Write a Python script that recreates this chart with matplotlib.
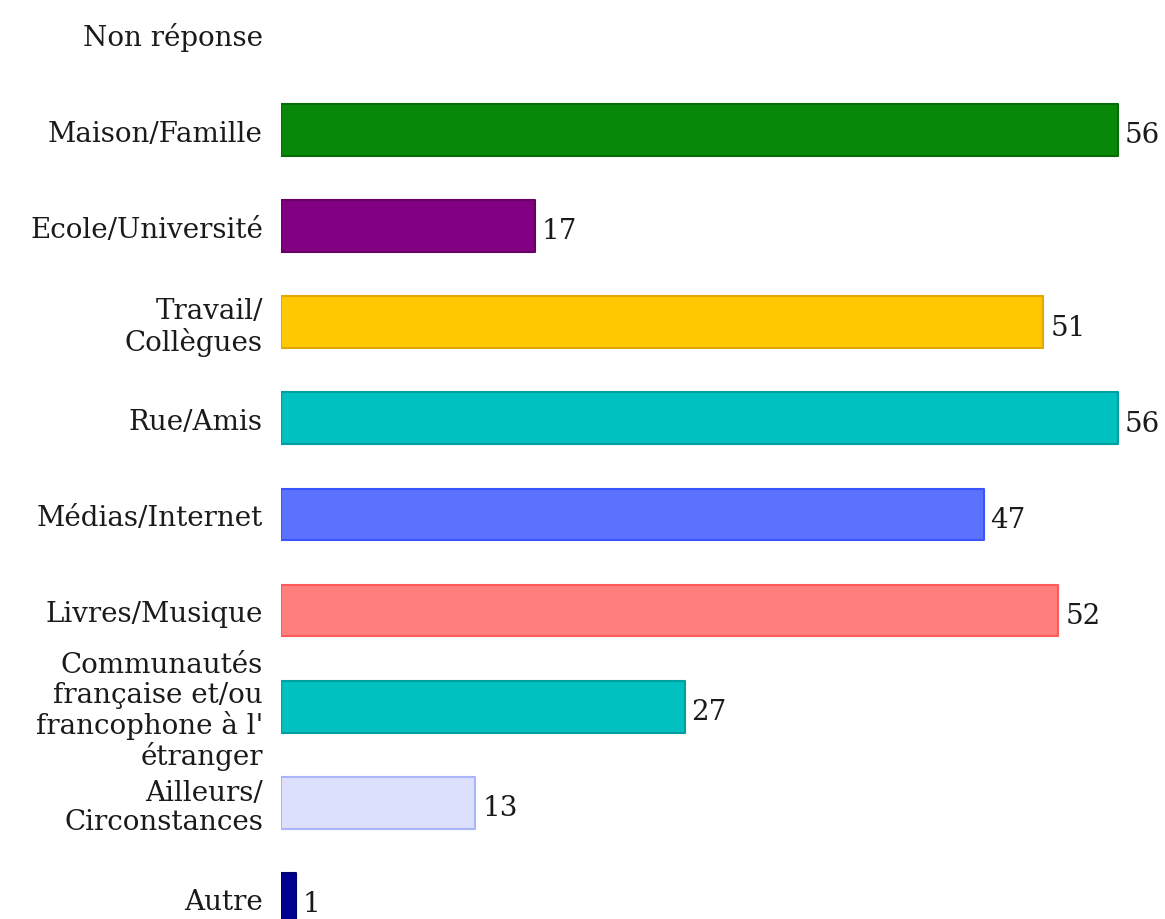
import matplotlib.pyplot as plt

categories = [
    "Non réponse",
    "Maison/Famille",
    "Ecole/Université",
    "Travail/\nCollègues",
    "Rue/Amis",
    "Médias/Internet",
    "Livres/Musique",
    "Communautés\nfrançaise et/ou\nfrancophone à l'\nétranger",
    "Ailleurs/\nCirconstances",
    "Autre",
]
values = [0, 56, 17, 51, 56, 47, 52, 27, 13, 1]
fill_colors = ["#ffffff", "#088808", "#820082", "#ffc800", "#00c0c0",
               "#5c72ff", "#ff7f7f", "#00c0c0", "#dde0fc", "#000090"]
edge_colors = ["#ffffff", "#066a06", "#660066", "#e0a800", "#00a0a0",
               "#3a55ff", "#ff5a5a", "#00a0a0", "#aab4f8", "#000070"]

FONT = "DejaVu Serif"


def plot_bars(path):
    fig = plt.figure(figsize=(11.65, 9.2), dpi=100)
    ax = fig.add_axes([281 / 1165, 0, 1 - 281 / 1165, 1])

    pos = list(range(len(categories)))
    for i, v in enumerate(values):
        if v == 0:
            continue
        ax.barh(pos[i], v, height=0.54, color=fill_colors[i],
                edgecolor=edge_colors[i], linewidth=1.5, joinstyle="round")
        ax.text(v + 0.45, pos[i] + 0.05, str(v), va="center", ha="left",
                fontsize=20, family=FONT, color="#1a1a1a")

    ax.set_xlim(0, 59.13)
    ax.set_ylim(9.21, -0.364)
    ax.set_yticks(pos)
    ax.set_yticklabels(categories, fontsize=20, family=FONT, color="#1a1a1a")
    for lbl in ax.get_yticklabels():
        lbl.set_linespacing(1.1)
    ax.tick_params(axis="y", length=0, pad=13)
    ax.set_xticks([])
    for s in ax.spines.values():
        s.set_visible(False)

    fig.savefig(path, dpi=100)
    plt.close(fig)


def main():
    plot_bars("out.png")


if __name__ == "__main__":
    main()
